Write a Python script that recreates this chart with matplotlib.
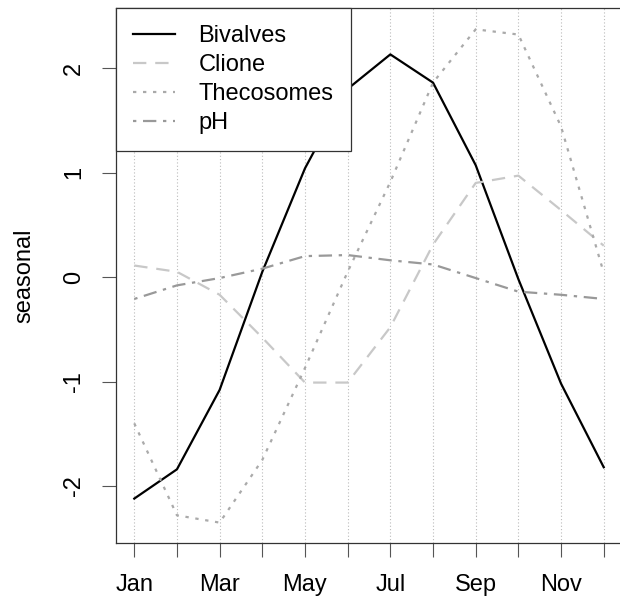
import numpy as np
import matplotlib
matplotlib.use("Agg")
import matplotlib.pyplot as plt

plt.rcParams['font.family'] = ['Liberation Sans', 'DejaVu Sans']

months = np.arange(1, 13)
month_labels = ['Jan', '', 'Mar', '', 'May', '', 'Jul', '', 'Sep', '', 'Nov', '']

bivalves = [-2.12, -1.84, -1.08, 0.05, 1.04, 1.80, 2.13, 1.86, 1.07, -0.02, -1.02, -1.82]
clione = [0.11, 0.05, -0.17, -0.58, -1.01, -1.01, -0.48, 0.31, 0.90, 0.97, 0.64, 0.30]
thecosomes = [-1.40, -2.28, -2.35, -1.75, -0.87, 0.05, 0.91, 1.86, 2.37, 2.32, 1.44, 0.04]
ph = [-0.21, -0.08, -0.01, 0.08, 0.20, 0.21, 0.16, 0.12, -0.01, -0.14, -0.17, -0.21]

fig = plt.figure(figsize=(6.2, 6.03), dpi=100)
ax = fig.add_axes([115.5 / 620, 60 / 603, 507 / 620, 535 / 603])

for m in months:
    ax.axvline(m, color='#bbbbbb', lw=0.8, ls=(0, (1, 2)), zorder=0)

ax.plot(months, bivalves, color='black', lw=1.6, label='Bivalves')
ax.plot(months, clione, color='#c8c8c8', lw=1.6, dashes=(6, 4), label='Clione')
ax.plot(months, thecosomes, color='#aaaaaa', lw=1.6, dashes=(1.5, 3), label='Thecosomes')
ax.plot(months, ph, color='#999999', lw=1.6, dashes=(1.5, 3, 6, 3), label='pH')

ax.set_xlim(0.56, 12.44)
ax.set_ylim(-2.545, 2.574)
ax.set_xticks(months)
ax.set_xticklabels(month_labels)
ax.set_yticks([-2, -1, 0, 1, 2])
ax.set_yticklabels(['-2', '-1', '0', '1', '2'], rotation=90, va='center')
ax.tick_params(direction='out', length=10, width=0.8, color='#555555', labelsize=17)
ax.tick_params(axis='x', pad=12)
ax.tick_params(axis='y', pad=12)
ax.set_ylabel('seasonal', fontsize=17, labelpad=20)
for s in ax.spines.values():
    s.set_color('#333333')
    s.set_linewidth(0.9)

leg = ax.legend(loc='upper left', fontsize=17, handlelength=1.8, handletextpad=1.0,
                labelspacing=0.3, borderpad=0.72, borderaxespad=0, fancybox=False,
                framealpha=1, edgecolor='#333333')
leg.get_frame().set_linewidth(0.9)

fig.savefig('out.png', dpi=100)
